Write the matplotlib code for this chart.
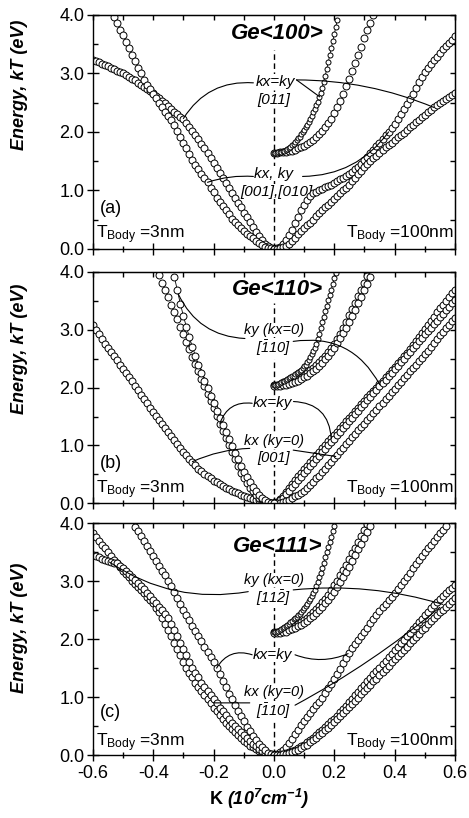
import numpy as np
import matplotlib.pyplot as plt
from matplotlib.ticker import FormatStrFormatter

plt.rcParams['font.family'] = 'Liberation Sans'
plt.rcParams['axes.unicode_minus'] = False
plt.rcParams['mathtext.fontset'] = 'custom'
plt.rcParams['mathtext.rm'] = 'Liberation Sans:italic'
plt.rcParams['mathtext.it'] = 'Liberation Sans:italic'
plt.rcParams['mathtext.sf'] = 'Liberation Sans'
plt.rcParams['mathtext.bf'] = 'Liberation Sans:bold:italic'
plt.rcParams['mathtext.default'] = 'it'

# Subband energies E (eV) on a uniform k grid (k in 1e7 cm^-1).
# Each curve is given as: first k, k step, list of energies.

# ---- Ge<100> ----
a_diag_3nm = (-0.60, 0.01, [
    3.23, 3.21, 3.19, 3.17, 3.14, 3.12, 3.10, 3.08, 3.05, 3.03,
    3.00, 2.97, 2.94, 2.91, 2.88, 2.84, 2.81, 2.77, 2.74, 2.70,
    2.66, 2.62, 2.58, 2.53, 2.49, 2.44, 2.40, 2.35, 2.31, 2.26,
    2.22, 2.15, 2.08, 2.02, 1.95, 1.88, 1.80, 1.72, 1.64, 1.55,
    1.47, 1.39, 1.30, 1.22, 1.13, 1.05, 0.96, 0.88, 0.79, 0.71,
    0.62, 0.54, 0.46, 0.38, 0.29, 0.22, 0.15, 0.09, 0.05, 0.02, 0.00])
a_axis_3nm = (-0.53, 0.01, [
    3.97, 3.86, 3.75, 3.65, 3.54, 3.43, 3.32, 3.21, 3.10, 3.00,
    2.89, 2.81, 2.73, 2.65, 2.58, 2.50, 2.42, 2.35, 2.27, 2.20,
    2.12, 2.02, 1.92, 1.82, 1.72, 1.62, 1.52, 1.44, 1.37, 1.29,
    1.22, 1.14, 1.05, 0.97, 0.88, 0.80, 0.73, 0.66, 0.59, 0.52,
    0.46, 0.41, 0.36, 0.31, 0.26, 0.22, 0.18, 0.14, 0.11, 0.07,
    0.04, 0.02, 0.01, 0.00])
a_axis_100nm = (0.0, 0.01, [
    0.00, 0.01, 0.04, 0.09, 0.15, 0.24, 0.33, 0.44, 0.55, 0.66,
    0.76, 0.84, 0.90, 0.95, 0.98, 1.01, 1.03, 1.06, 1.08, 1.10,
    1.13, 1.16, 1.19, 1.22, 1.25, 1.28, 1.32, 1.36, 1.40, 1.46,
    1.52, 1.58, 1.64, 1.70, 1.76, 1.82, 1.88, 1.94, 2.00, 2.07,
    2.14, 2.22, 2.30, 2.39, 2.48, 2.56, 2.65, 2.75, 2.85, 2.94,
    3.02, 3.09, 3.16, 3.23, 3.29, 3.35, 3.41, 3.47, 3.52, 3.58, 3.64])
a_diag_100nm = (0.0, 0.01, [
    0.00, 0.00, 0.01, 0.03, 0.05, 0.09, 0.13, 0.19, 0.25, 0.31,
    0.36, 0.41, 0.45, 0.50, 0.56, 0.61, 0.66, 0.71, 0.76, 0.81,
    0.86, 0.90, 0.95, 1.00, 1.05, 1.10, 1.16, 1.22, 1.28, 1.34,
    1.40, 1.45, 1.50, 1.55, 1.59, 1.64, 1.69, 1.74, 1.78, 1.82,
    1.86, 1.91, 1.95, 1.99, 2.03, 2.08, 2.12, 2.17, 2.21, 2.25,
    2.29, 2.34, 2.38, 2.42, 2.46, 2.50, 2.53, 2.57, 2.60, 2.63, 2.66])
a_diag_100nm_up = (0.0, 0.005, [
    1.64, 1.64, 1.64, 1.65, 1.65, 1.66, 1.67, 1.68, 1.69, 1.71,
    1.73, 1.75, 1.77, 1.80, 1.83, 1.86, 1.89, 1.92, 1.96, 2.00,
    2.04, 2.08, 2.12, 2.17, 2.22, 2.28, 2.34, 2.40, 2.46, 2.52,
    2.59, 2.67, 2.76, 2.86, 2.96, 3.07, 3.19, 3.31, 3.43, 3.55,
    3.67, 3.79, 3.92])
a_axis_100nm_up = (0.0, 0.01, [
    1.64, 1.64, 1.65, 1.65, 1.66, 1.67, 1.68, 1.70, 1.72, 1.74,
    1.76, 1.79, 1.83, 1.87, 1.91, 1.96, 2.02, 2.08, 2.15, 2.23,
    2.32, 2.42, 2.53, 2.65, 2.78, 2.91, 3.04, 3.18, 3.32, 3.46,
    3.60, 3.74, 3.87, 4.00])

# ---- Ge<110> ----
b_kx_3nm = (-0.60, 0.01, [
    3.08, 3.00, 2.92, 2.84, 2.76, 2.68, 2.61, 2.54, 2.47, 2.40,
    2.33, 2.26, 2.18, 2.11, 2.03, 1.96, 1.88, 1.81, 1.73, 1.65,
    1.58, 1.51, 1.44, 1.37, 1.30, 1.23, 1.16, 1.09, 1.02, 0.96,
    0.89, 0.83, 0.77, 0.71, 0.66, 0.60, 0.56, 0.51, 0.47, 0.43,
    0.39, 0.36, 0.33, 0.30, 0.27, 0.24, 0.22, 0.19, 0.17, 0.15,
    0.13, 0.11, 0.09, 0.08, 0.06, 0.05, 0.03, 0.02, 0.01, 0.00, 0.00])
b_diag_3nm = (-0.38, 0.01, [
    3.94, 3.81, 3.69, 3.56, 3.43, 3.30, 3.18, 3.05, 2.92, 2.79,
    2.66, 2.53, 2.41, 2.28, 2.15, 2.02, 1.89, 1.77, 1.64, 1.51,
    1.38, 1.25, 1.13, 1.00, 0.88, 0.76, 0.64, 0.53, 0.43, 0.35,
    0.27, 0.21, 0.15, 0.10, 0.07, 0.04, 0.02, 0.01, 0.00])
b_ky_3nm = (-0.33, 0.01, [
    3.92, 3.68, 3.45, 3.24, 3.05, 2.87, 2.70, 2.55, 2.40, 2.26,
    2.12, 1.99, 1.86, 1.73, 1.60, 1.48, 1.36, 1.23, 1.11, 0.99,
    0.87, 0.76, 0.65, 0.55, 0.45, 0.36, 0.28, 0.21, 0.15, 0.10,
    0.06, 0.03, 0.01, 0.00])
b_ky_100nm = (0.0, 0.01, [
    0.00, 0.02, 0.07, 0.13, 0.20, 0.27, 0.34, 0.41, 0.47, 0.53,
    0.59, 0.65, 0.71, 0.77, 0.83, 0.89, 0.95, 1.01, 1.07, 1.13,
    1.18, 1.24, 1.30, 1.36, 1.42, 1.47, 1.53, 1.59, 1.65, 1.71,
    1.77, 1.83, 1.89, 1.94, 2.00, 2.06, 2.12, 2.18, 2.24, 2.30,
    2.36, 2.42, 2.48, 2.54, 2.60, 2.67, 2.74, 2.81, 2.88, 2.95,
    3.02, 3.09, 3.16, 3.23, 3.30, 3.37, 3.43, 3.50, 3.56, 3.63, 3.69])
b_diag_100nm = (0.0, 0.01, [
    0.00, 0.01, 0.05, 0.10, 0.16, 0.22, 0.28, 0.34, 0.40, 0.46,
    0.52, 0.58, 0.64, 0.70, 0.76, 0.82, 0.88, 0.94, 1.00, 1.06,
    1.12, 1.18, 1.24, 1.30, 1.36, 1.42, 1.48, 1.54, 1.60, 1.66,
    1.72, 1.78, 1.84, 1.90, 1.96, 2.02, 2.08, 2.14, 2.20, 2.26,
    2.32, 2.38, 2.44, 2.50, 2.56, 2.62, 2.68, 2.74, 2.80, 2.86,
    2.92, 2.98, 3.04, 3.10, 3.16, 3.22, 3.28, 3.34, 3.40, 3.46, 3.52])
b_kx_100nm = (0.0, 0.01, [
    0.00, 0.00, 0.01, 0.02, 0.04, 0.06, 0.09, 0.12, 0.15, 0.18,
    0.22, 0.27, 0.32, 0.37, 0.43, 0.48, 0.54, 0.60, 0.66, 0.72,
    0.78, 0.84, 0.90, 0.96, 1.02, 1.08, 1.14, 1.20, 1.26, 1.32,
    1.38, 1.44, 1.50, 1.56, 1.62, 1.68, 1.74, 1.80, 1.86, 1.92,
    1.98, 2.04, 2.10, 2.16, 2.22, 2.28, 2.34, 2.40, 2.46, 2.52,
    2.58, 2.64, 2.71, 2.78, 2.84, 2.91, 2.97, 3.03, 3.09, 3.15, 3.21])
b_up1_100nm = (0.0, 0.005, [
    2.04, 2.04, 2.05, 2.06, 2.08, 2.09, 2.11, 2.12, 2.14, 2.15,
    2.17, 2.18, 2.20, 2.21, 2.23, 2.25, 2.27, 2.29, 2.31, 2.34,
    2.37, 2.40, 2.44, 2.48, 2.53, 2.58, 2.63, 2.69, 2.76, 2.84,
    2.93, 3.03, 3.13, 3.23, 3.33, 3.42, 3.51, 3.60, 3.69, 3.79,
    3.89, 3.99])
b_up2_100nm = (0.0, 0.01, [
    2.04, 2.04, 2.05, 2.06, 2.08, 2.09, 2.11, 2.13, 2.16, 2.19,
    2.22, 2.26, 2.30, 2.34, 2.39, 2.44, 2.49, 2.55, 2.61, 2.68,
    2.76, 2.84, 2.93, 3.03, 3.14, 3.25, 3.36, 3.47, 3.58, 3.69,
    3.81, 3.93])
b_up3_100nm = (0.0, 0.01, [
    2.02, 2.02, 2.03, 2.04, 2.05, 2.06, 2.08, 2.10, 2.12, 2.15,
    2.18, 2.21, 2.25, 2.29, 2.33, 2.38, 2.43, 2.49, 2.55, 2.62,
    2.69, 2.77, 2.85, 2.94, 3.04, 3.14, 3.24, 3.35, 3.46, 3.57,
    3.68, 3.80, 3.92])

# ---- Ge<111> ----
c_kx_3nm = (-0.60, 0.01, [
    3.83, 3.76, 3.70, 3.63, 3.57, 3.50, 3.44, 3.37, 3.31, 3.25,
    3.18, 3.12, 3.07, 3.01, 2.96, 2.90, 2.84, 2.79, 2.73, 2.68,
    2.62, 2.54, 2.46, 2.37, 2.26, 2.16, 2.05, 1.94, 1.83, 1.72,
    1.61, 1.50, 1.42, 1.34, 1.25, 1.17, 1.10, 1.03, 0.96, 0.89,
    0.82, 0.76, 0.69, 0.62, 0.56, 0.50, 0.45, 0.39, 0.34, 0.29,
    0.25, 0.21, 0.16, 0.13, 0.10, 0.07, 0.04, 0.02, 0.01, 0.00, 0.00])
c_ky_3nm = (-0.60, 0.01, [
    3.45, 3.43, 3.41, 3.39, 3.37, 3.35, 3.34, 3.32, 3.31, 3.27,
    3.22, 3.17, 3.12, 3.07, 3.02, 2.97, 2.92, 2.86, 2.80, 2.74,
    2.68, 2.62, 2.56, 2.50, 2.43, 2.36, 2.26, 2.16, 2.05, 1.94,
    1.83, 1.72, 1.61, 1.50, 1.42, 1.34, 1.25, 1.17, 1.10, 1.03,
    0.96, 0.89, 0.82, 0.76, 0.69, 0.62, 0.56, 0.50, 0.45, 0.39,
    0.34, 0.29, 0.24, 0.19, 0.15, 0.11, 0.07, 0.04, 0.02, 0.01, 0.00])
c_diag_3nm = (-0.46, 0.01, [
    3.94, 3.86, 3.78, 3.69, 3.61, 3.52, 3.44, 3.35, 3.27, 3.18,
    3.10, 3.01, 2.91, 2.81, 2.71, 2.61, 2.51, 2.42, 2.33, 2.23,
    2.14, 2.05, 1.96, 1.87, 1.78, 1.69, 1.60, 1.50, 1.39, 1.28,
    1.17, 1.06, 0.96, 0.86, 0.76, 0.67, 0.58, 0.49, 0.41, 0.33,
    0.26, 0.19, 0.13, 0.08, 0.04, 0.01, 0.00])
c_diag_100nm = (0.0, 0.01, [
    0.00, 0.02, 0.05, 0.09, 0.14, 0.20, 0.28, 0.36, 0.44, 0.52,
    0.59, 0.66, 0.72, 0.79, 0.86, 0.92, 0.99, 1.07, 1.15, 1.23,
    1.31, 1.40, 1.49, 1.58, 1.67, 1.76, 1.84, 1.91, 1.99, 2.06,
    2.13, 2.20, 2.28, 2.35, 2.42, 2.49, 2.55, 2.61, 2.67, 2.73,
    2.80, 2.87, 2.94, 3.01, 3.08, 3.15, 3.22, 3.29, 3.36, 3.43,
    3.50, 3.57, 3.63, 3.70, 3.76, 3.83, 3.89, 3.96])
c_kx_100nm = (0.0, 0.01, [
    0.00, 0.00, 0.01, 0.02, 0.03, 0.05, 0.07, 0.09, 0.12, 0.15,
    0.18, 0.22, 0.26, 0.30, 0.34, 0.39, 0.43, 0.48, 0.53, 0.58,
    0.63, 0.68, 0.74, 0.79, 0.85, 0.91, 0.97, 1.03, 1.09, 1.15,
    1.21, 1.27, 1.33, 1.39, 1.45, 1.51, 1.57, 1.63, 1.69, 1.75,
    1.81, 1.87, 1.93, 1.99, 2.05, 2.11, 2.17, 2.23, 2.29, 2.35,
    2.41, 2.47, 2.53, 2.59, 2.64, 2.69, 2.74, 2.79, 2.84, 2.89, 2.93])
c_ky_100nm = (0.0, 0.01, [
    0.00, 0.00, 0.00, 0.01, 0.02, 0.03, 0.05, 0.07, 0.09, 0.12,
    0.15, 0.18, 0.22, 0.26, 0.30, 0.34, 0.38, 0.43, 0.47, 0.52,
    0.57, 0.62, 0.67, 0.72, 0.77, 0.83, 0.88, 0.94, 0.99, 1.05,
    1.10, 1.16, 1.21, 1.27, 1.32, 1.38, 1.43, 1.49, 1.54, 1.60,
    1.65, 1.71, 1.76, 1.82, 1.87, 1.93, 1.98, 2.04, 2.09, 2.15,
    2.20, 2.26, 2.31, 2.36, 2.41, 2.46, 2.51, 2.56, 2.61, 2.66, 2.71])
c_up1_100nm = (0.0, 0.005, [
    2.12, 2.13, 2.13, 2.14, 2.15, 2.17, 2.19, 2.21, 2.23, 2.25,
    2.27, 2.29, 2.31, 2.34, 2.36, 2.39, 2.41, 2.44, 2.47, 2.50,
    2.53, 2.57, 2.61, 2.65, 2.69, 2.74, 2.79, 2.85, 2.92, 2.99,
    3.07, 3.15, 3.23, 3.32, 3.41, 3.50, 3.59, 3.68, 3.77, 3.86, 3.95])
c_up2_100nm = (0.0, 0.01, [
    2.12, 2.12, 2.13, 2.14, 2.16, 2.18, 2.20, 2.23, 2.26, 2.29,
    2.33, 2.37, 2.42, 2.47, 2.52, 2.58, 2.64, 2.70, 2.77, 2.85,
    2.93, 3.01, 3.10, 3.19, 3.28, 3.38, 3.48, 3.58, 3.68, 3.78,
    3.88, 3.98])
c_up3_100nm = (0.0, 0.01, [
    2.10, 2.10, 2.11, 2.12, 2.13, 2.15, 2.17, 2.19, 2.22, 2.25,
    2.28, 2.32, 2.36, 2.40, 2.45, 2.50, 2.56, 2.62, 2.68, 2.75,
    2.82, 2.90, 2.98, 3.07, 3.16, 3.25, 3.35, 3.45, 3.55, 3.65,
    3.75, 3.85, 3.95])


def draw_band(ax, band, small=False, joined=False):
    k0, dk, e = band
    k = k0 + dk * np.arange(len(e))
    ax.plot(k, e, color='black', lw=0.6, ls='-' if joined else 'none',
            marker='o', ms=3.6 if small else 5.0, mfc='white', mec='black',
            mew=0.7, zorder=2)


def label(ax, x, y, s, size=10.5):
    ax.text(x, y, s, ha='center', va='center', fontsize=size, style='italic',
            bbox=dict(fc='white', ec='none', pad=0.2), zorder=1.5)


def leader(ax, p0, p1, rad):
    ax.annotate('', xy=p1, xytext=p0, zorder=4,
                arrowprops=dict(arrowstyle='-', color='black', lw=0.8,
                                shrinkA=0, shrinkB=0,
                                connectionstyle='arc3,rad=%.2f' % rad))


def setup(ax, letter, title, ylab_y, dash_top, title_y, tag_y, tb_y, xlabels):
    ax.set_xlim(-0.6, 0.6)
    ax.set_ylim(0, 4)
    ax.set_xticks([-0.6, -0.4, -0.2, 0.0, 0.2, 0.4, 0.6])
    ax.set_xticks([-0.5, -0.3, -0.1, 0.1, 0.3, 0.5], minor=True)
    ax.set_yticks([0, 1, 2, 3, 4])
    ax.set_yticks([0.5, 1.5, 2.5, 3.5], minor=True)
    ax.xaxis.set_major_formatter(FormatStrFormatter('%.1f'))
    ax.yaxis.set_major_formatter(FormatStrFormatter('%.1f'))
    ax.tick_params(which='major', direction='inout', length=8, width=1,
                   labelsize=13, pad=2)
    ax.tick_params(axis='x', which='minor', direction='inout', length=5, width=1)
    ax.tick_params(axis='y', which='minor', direction='in', length=3.5, width=1)
    ax.tick_params(axis='x', labelbottom=xlabels, pad=3)
    for sp in ax.spines.values():
        sp.set_linewidth(1.0)

    top = ax.secondary_xaxis('top')
    top.set_xticks(np.round(np.arange(-0.6, 0.61, 0.1), 1))
    top.tick_params(direction='in', length=3.5, width=1, labeltop=False)
    right = ax.secondary_yaxis('right')
    right.set_yticks(np.arange(0, 4.01, 0.5))
    right.tick_params(direction='in', length=3.5, width=1, labelright=False)

    ax.set_ylabel('Energy, kT (eV)', fontsize=13, fontweight='bold', style='italic')
    ax.yaxis.set_label_coords(-0.18, ylab_y)

    ax.plot([0, 0], [0, dash_top], color='black', lw=1.0, ls=(0, (4, 2.5)), zorder=1)
    ax.text(0.012, title_y, title, ha='center', va='center', fontsize=16,
            fontweight='bold', style='italic', zorder=3)
    ax.text(-0.577, tag_y, '(%s)' % letter, fontsize=13, va='baseline', zorder=3)
    ax.text(-0.588, tb_y, r'T$_{\mathsf{Body}}$ =3nm', fontsize=12.5,
            va='baseline', ha='left', zorder=3)
    ax.text(0.598, tb_y, r'T$_{\mathsf{Body}}$ =100nm', fontsize=12.5,
            va='baseline', ha='right', zorder=3)


fig = plt.figure(figsize=(4.69, 8.18), dpi=100)
ax_a = fig.add_axes([0.198, 0.6956, 0.772, 0.2861])
ax_b = fig.add_axes([0.198, 0.3847, 0.772, 0.2828])
ax_c = fig.add_axes([0.198, 0.0770, 0.772, 0.2833])

# (a) Ge<100>
setup(ax_a, 'a', 'Ge<100>', 0.70, 3.40, 3.69, 0.61, 0.18, False)
for band in (a_diag_3nm, a_axis_3nm, a_axis_100nm, a_diag_100nm, a_axis_100nm_up):
    draw_band(ax_a, band)
draw_band(ax_a, a_diag_100nm_up, small=True, joined=True)
label(ax_a, 0.005, 2.86, 'kx=ky', 11)
label(ax_a, 0.0, 2.55, '[011]', 11)
label(ax_a, 0.0, 1.29, 'kx, ky', 11)
label(ax_a, 0.008, 0.98, '[001],[010]', 11)
leader(ax_a, (-0.068, 2.84), (-0.30, 2.23), 0.3)
leader(ax_a, (0.075, 2.89), (0.152, 2.60), 0.0)
leader(ax_a, (0.075, 2.89), (0.53, 2.42), -0.1)
leader(ax_a, (-0.068, 1.24), (-0.22, 1.14), 0.1)
leader(ax_a, (0.095, 1.24), (0.38, 2.00), 0.25)

# (b) Ge<110>
setup(ax_b, 'b', 'Ge<110>', 0.67, 3.46, 3.69, 0.61, 0.17, False)
for band in (b_kx_3nm, b_diag_3nm, b_ky_100nm, b_diag_100nm, b_kx_100nm,
             b_up2_100nm, b_up3_100nm):
    draw_band(ax_b, band)
draw_band(ax_b, b_ky_3nm, joined=True)
draw_band(ax_b, b_up1_100nm, small=True, joined=True)
label(ax_b, 0.0, 3.00, 'ky (kx=0)')
label(ax_b, 0.0, 2.68, r'$[\bar{1}10]$')
label(ax_b, -0.005, 1.73, 'kx=ky', 11)
label(ax_b, 0.0, 1.07, 'kx (ky=0)')
label(ax_b, 0.0, 0.78, '[001]')
leader(ax_b, (-0.096, 2.85), (-0.317, 3.62), -0.3)
leader(ax_b, (0.064, 2.80), (0.351, 2.05), -0.35)
leader(ax_b, (-0.072, 1.73), (-0.179, 1.38), 0.4)
leader(ax_b, (0.065, 1.76), (0.19, 1.12), -0.45)
leader(ax_b, (-0.08, 0.95), (-0.27, 0.72), 0.1)
leader(ax_b, (0.064, 0.92), (0.205, 0.81), 0.0)

# (c) Ge<111>
setup(ax_c, 'c', 'Ge<111>', 0.55, 3.49, 3.60, 0.66, 0.15, True)
for band in (c_kx_3nm, c_ky_3nm, c_diag_3nm, c_diag_100nm, c_kx_100nm,
             c_ky_100nm, c_up2_100nm, c_up3_100nm):
    draw_band(ax_c, band)
draw_band(ax_c, c_up1_100nm, small=True, joined=True)
label(ax_c, 0.0, 3.02, 'ky (kx=0)')
label(ax_c, 0.0, 2.71, r'$[11\bar{2}]$')
label(ax_c, -0.005, 1.73, 'kx=ky', 11)
label(ax_c, 0.0, 1.09, 'kx (ky=0)')
label(ax_c, 0.0, 0.75, r'$[\bar{1}10]$')
leader(ax_c, (-0.085, 2.82), (-0.545, 3.33), -0.2)
leader(ax_c, (0.064, 2.85), (0.56, 2.60), -0.1)
leader(ax_c, (-0.072, 1.73), (-0.19, 1.50), 0.4)
leader(ax_c, (0.07, 1.73), (0.246, 1.75), 0.2)
leader(ax_c, (-0.08, 0.90), (-0.20, 0.90), 0.0)
leader(ax_c, (0.07, 0.86), (0.55, 2.55), 0.05)

fig.text(259.5 / 469, 1 - 799 / 818, r'K $\mathbf{(10^{7}cm^{-1})}$',
         ha='center', va='center', fontsize=13, fontweight='bold')

fig.savefig('out.png', dpi=100)
